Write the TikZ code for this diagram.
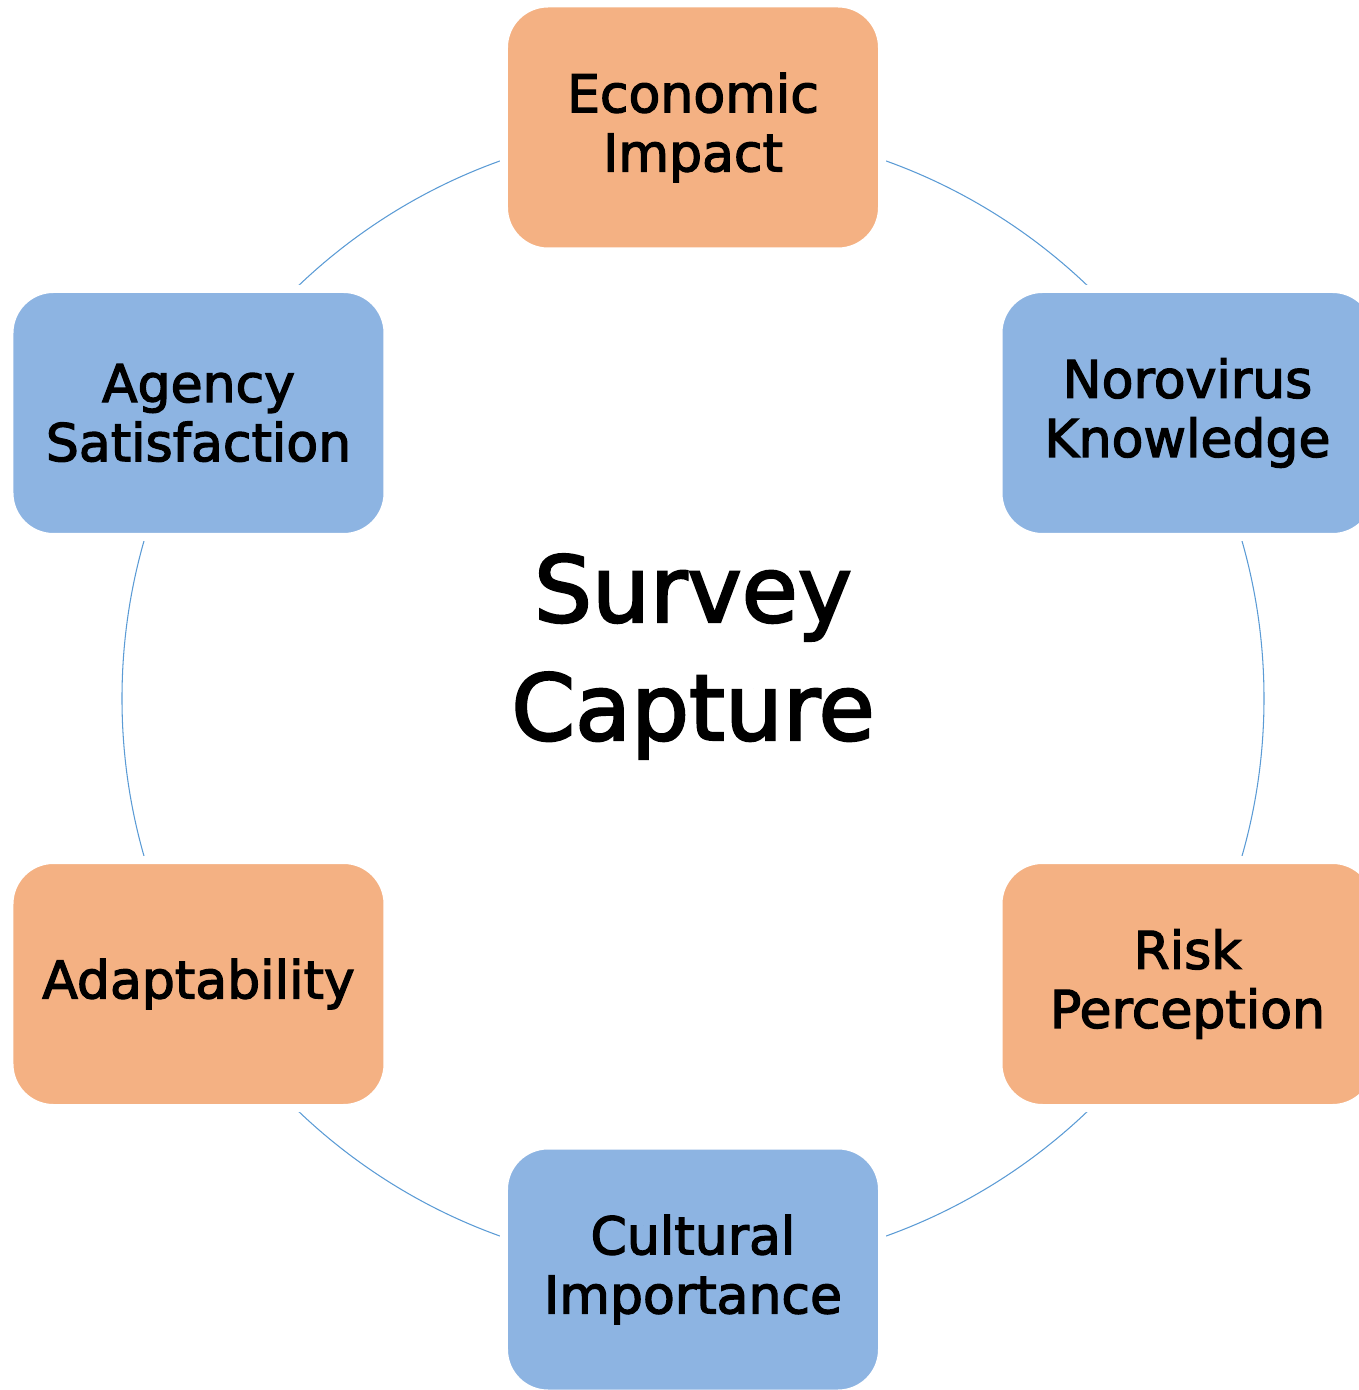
\documentclass[tikz,border=0pt]{standalone}
\usepackage{fontspec}
\setmainfont{DejaVu Sans}[BoldFont={DejaVu Sans}, BoldFeatures={FakeBold=2.5}]
\definecolor{cO}{HTML}{F4B183}
\definecolor{cB}{HTML}{8DB4E2}
\definecolor{cR}{HTML}{5B9BD5}
\begin{document}
\begin{tikzpicture}[every node/.style={align=center, text=black},
                    topic/.style={draw=white, line width=1.6mm, rounded corners=8.8mm,
                                  minimum width=7.56cm, minimum height=4.96cm,
                                  font=\fontsize{29.6}{33.6}\selectfont\bfseries},
                    warm/.style={topic, fill=cO},
                    cool/.style={topic, fill=cB},
                    ring/.style={draw=cR, line width=0.6pt}]

    % Page size
    \useasboundingbox (-13.86,-13.83) rectangle (13.30,13.97);

    % Centre and title
    \coordinate (hub) at (0,0);
    \node[font=\fontsize{52}{67.2}\selectfont\bfseries] (title) at (0,0.84) {Survey\\Capture};

    % The ring behind the boxes
    \draw[ring] (hub) circle [radius=11.42];

    % Boxes around the ring
    \node[warm] (econ)  at (90:11.42)  {Economic\\Impact};
    \node[cool] (noro)  at (30:11.42)  {Norovirus\\Knowledge};
    \node[warm] (risk)  at (-30:11.42) {Risk\\Perception};
    \node[cool] (cult)  at (-90:11.42) {Cultural\\Importance};
    \node[warm] (adapt) at (210:11.42) {Adaptability};
    \node[cool] (agency) at (150:11.42) {Agency\\Satisfaction};

\end{tikzpicture}
\end{document}
